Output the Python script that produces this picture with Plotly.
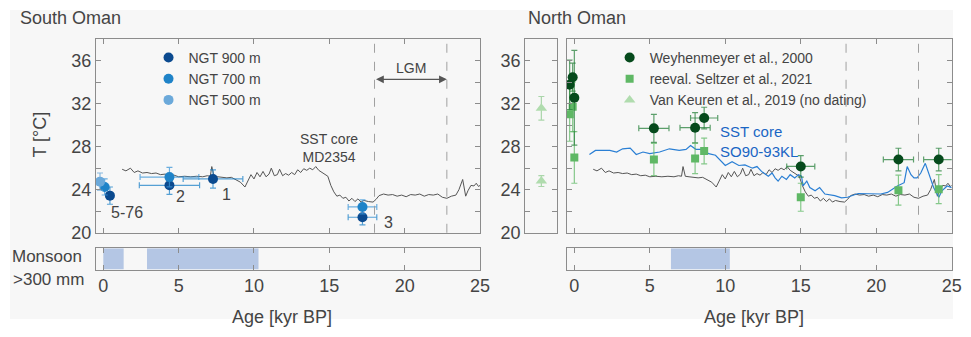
import plotly.graph_objects as go

# ---------------- data ----------------
md2354_age = [1.25, 1.5, 1.8, 2.05, 2.3, 2.6, 2.9, 3.2, 3.5, 3.8, 4.1, 4.4, 4.7, 5.0, 5.4, 5.8, 6.2, 6.6,
              6.9, 7.1, 7.2, 7.35, 7.6, 7.9, 8.2, 8.5, 8.8, 9.1, 9.4, 9.6, 9.8, 10.0, 10.2, 10.4, 10.6,
              10.8, 11.0, 11.15, 11.35, 11.55, 11.7, 11.9, 12.1, 12.3, 12.5, 12.7, 12.9, 13.1, 13.3,
              13.5, 13.7, 13.9, 14.1, 14.3, 14.5, 14.7, 14.9, 15.1, 15.3, 15.5, 15.7, 15.9, 16.1, 16.3,
              16.5, 16.7, 16.9, 17.1, 17.3, 17.6, 17.9, 18.1, 18.3, 18.6, 18.9, 19.2, 19.5, 19.8, 20.1,
              20.4, 20.7, 21.0, 21.3, 21.6, 21.9, 22.2, 22.5, 22.8, 23.1, 23.4, 23.6, 23.85, 24.05,
              24.2, 24.4, 24.6, 24.75, 24.9, 25.0]
md2354_T = [25.9, 25.75, 26.0, 25.6, 25.75, 25.55, 25.6, 25.5, 25.55, 25.4, 25.45, 25.3, 25.35, 25.2,
            25.25, 25.2, 25.25, 25.2, 25.3, 25.25, 26.15, 25.25, 25.2, 25.15, 25.1, 25.15, 24.9, 24.7,
            24.25, 24.8, 25.4, 25.0, 25.6, 25.2, 25.7, 25.2, 25.45, 26.0, 25.3, 25.4, 25.9, 25.3, 25.5,
            25.35, 25.6, 25.4, 25.85, 25.6, 25.95, 25.8, 26.0, 25.85, 26.15, 25.8, 25.6, 25.4, 25.25,
            24.4, 23.8, 23.4, 23.5, 23.2, 23.3, 22.95, 23.2, 22.9, 23.15, 22.85, 23.0, 22.9, 22.85,
            23.1, 23.45, 23.6, 23.5, 23.55, 23.4, 23.5, 23.35, 23.55, 23.5, 23.6, 23.4, 23.55, 23.5,
            23.6, 23.3, 23.2, 23.4, 23.5, 24.0, 24.95, 23.4, 23.9, 24.4, 24.35, 24.6, 24.3, 24.4]

so90_age = [1.0, 1.4, 2.35, 2.8, 3.2, 3.7, 4.1, 4.55, 5.0, 5.65, 6.3, 6.95, 7.4, 7.7, 8.05, 8.5, 8.9,
            9.35, 10.0, 10.45, 10.9, 11.3, 11.8, 12.1, 12.4, 12.85, 13.1, 13.3, 13.5, 13.75, 14.05,
            14.3, 14.6, 14.85, 15.05, 15.15, 15.4, 15.6, 15.95, 16.25, 16.6, 17.25, 17.7, 18.1, 18.8,
            19.65, 20.3, 20.75, 21.2, 21.4, 21.85, 22.05, 22.3, 22.5, 22.7, 22.95, 23.25, 23.5, 23.8,
            24.15, 24.35, 24.7, 25.0]
so90_T = [27.27, 27.65, 27.65, 27.5, 27.8, 27.87, 27.27, 27.5, 27.35, 27.5, 27.8, 27.65, 27.75, 28.1,
          27.75, 27.75, 27.35, 27.2, 26.25, 26.6, 26.25, 26.3, 26.0, 26.15, 25.7, 25.25, 25.55, 25.1,
          24.8, 25.25, 24.95, 25.4, 25.1, 25.4, 25.25, 24.35, 24.8, 24.2, 23.9, 24.2, 23.6, 23.45,
          23.25, 23.3, 23.65, 23.6, 23.6, 23.75, 24.2, 24.35, 24.65, 26.15, 25.4, 25.1, 25.1, 25.55,
          26.45, 25.4, 24.2, 23.3, 23.9, 24.35, 24.2]

ngt900_age = [0.44, 4.39, 7.28, 17.2]
ngt900_T = [23.45, 24.41, 25.0, 21.44]
ngt900_xerr = [0, 2.0, 1.98, 0.95]
ngt900_yerr = [0.8, 0.85, 0.85, 0.7]

ngt700_age = [0.09, 4.39, 17.2]
ngt700_T = [24.26, 25.17, 22.4]
ngt700_xerr = [0, 1.95, 0.95]
ngt700_yerr = [0.75, 0.9, 0.65]

ngt500_age = [-0.22]
ngt500_T = [24.75]
ngt500_yerr = [0.8]

sample_labels = ["5-76", "2", "1", "3"]
sample_label_age = [1.6, 5.1, 8.15, 18.9]
sample_label_T = [21.9, 23.4, 23.6, 21.0]

wey_age = [-0.31, -0.11, 0.0, 5.27, 8.0, 8.6, 15.0, 21.47, 24.14]
wey_T = [33.75, 34.45, 32.55, 29.7, 29.76, 30.66, 26.16, 26.8, 26.8]
wey_xerr = [0, 0, 0, 1.0, 1.0, 0.9, 0.93, 1.0, 1.0]
wey_yerr = [2.3, 1.3, 4.4, 1.3, 1.4, 1.0, 1.0, 1.05, 1.05]

sel_age = [-0.31, -0.11, 0.0, 5.27, 8.0, 8.6, 15.0, 21.47, 24.14]
sel_T = [31.0, 31.7, 27.0, 26.8, 26.9, 27.6, 23.3, 23.96, 24.05]
sel_yerr = [2.5, 2.3, 2.4, 1.5, 1.4, 1.2, 1.3, 1.4, 1.35]

vk_pos = [0.5, 0.5]
vk_T = [31.56, 24.8]
vk_yerr = [1.1, 0.5]

monsoon_south = [(0.0, 1.35), (2.9, 10.3)]
monsoon_north = [(6.4, 10.3)]

lgm = (18.0, 22.8)

# ---------------- style ----------------
# the page keeps its 8px body margin; the figure fills the rest of the 971x337 window
OFF = 8
W, H = 971 - 2 * OFF, 337 - 2 * OFF
PAPER = "#f7f7f7"
TXT = "#444444"
AX = "#8c8c8c"
FONT = "Liberation Sans, Arial, sans-serif"
C900, C700, C500 = "#0b4a8f", "#1f83c8", "#6ba9da"
CWEY, CSEL, CVK = "#064a1c", "#5fb865", "#b0dcae"
CBLUE = "#2a7fd4"
CGRAY = "#555555"


def px_x(p):
    return (p - OFF) / W


def px_y(p):
    return 1 - (p - OFF) / H


fig = go.Figure()

# ---- South Oman ----
fig.add_trace(go.Scatter(x=md2354_age, y=md2354_T, mode="lines", line=dict(color=CGRAY, width=1),
                         showlegend=False, xaxis="x", yaxis="y", hoverinfo="skip"))


def err(vals, color, width=1.2):
    return dict(type="data", array=vals, visible=True, color=color, thickness=width, width=3)


fig.add_trace(go.Scatter(x=ngt900_age, y=ngt900_T, mode="markers", name="NGT 900 m",
                         marker=dict(color=C900, size=10),
                         error_x=err(ngt900_xerr, "rgba(31,131,200,0.75)"),
                         error_y=err(ngt900_yerr, "rgba(31,131,200,0.75)"),
                         xaxis="x", yaxis="y", legend="legend"))
fig.add_trace(go.Scatter(x=ngt700_age, y=ngt700_T, mode="markers", name="NGT 700 m",
                         marker=dict(color=C700, size=10),
                         error_x=err(ngt700_xerr, "rgba(60,150,215,0.75)"),
                         error_y=err(ngt700_yerr, "rgba(60,150,215,0.75)"),
                         xaxis="x", yaxis="y", legend="legend"))
fig.add_trace(go.Scatter(x=ngt500_age, y=ngt500_T, mode="markers", name="NGT 500 m",
                         marker=dict(color=C500, size=10),
                         error_y=err(ngt500_yerr, "rgba(107,169,218,0.8)"),
                         xaxis="x", yaxis="y", legend="legend"))

for a, b in monsoon_south:
    fig.add_trace(go.Bar(y=[0.5], x=[b - a], base=[a], orientation="h", width=1,
                         marker=dict(color="#b4c6e4", line=dict(width=0)),
                         showlegend=False, xaxis="x2", yaxis="y2", hoverinfo="skip"))

# ---- North Oman ----
fig.add_trace(go.Scatter(x=vk_pos, y=vk_T, mode="markers", name="Van Keuren et al., 2019 (no dating)",
                         marker=dict(color=CVK, size=10, symbol="triangle-up"),
                         error_y=err(vk_yerr, "rgba(150,205,150,0.8)"),
                         xaxis="x3", yaxis="y3", legend="legend2", legendrank=3))
fig.add_trace(go.Scatter(x=md2354_age, y=md2354_T, mode="lines", line=dict(color=CGRAY, width=1),
                         showlegend=False, xaxis="x4", yaxis="y4", hoverinfo="skip"))
fig.add_trace(go.Scatter(x=so90_age, y=so90_T, mode="lines", line=dict(color=CBLUE, width=1.2),
                         showlegend=False, xaxis="x4", yaxis="y4", hoverinfo="skip"))
fig.add_trace(go.Scatter(x=sel_age, y=sel_T, mode="markers", name="reeval. Seltzer et al., 2021",
                         marker=dict(color=CSEL, size=8, symbol="square"),
                         error_y=err(sel_yerr, "rgba(95,184,101,0.75)"),
                         xaxis="x4", yaxis="y4", legend="legend2", legendrank=2))
fig.add_trace(go.Scatter(x=wey_age, y=wey_T, mode="markers", name="Weyhenmeyer et al., 2000",
                         marker=dict(color=CWEY, size=10),
                         error_x=err(wey_xerr, "rgba(40,130,60,0.75)"),
                         error_y=err(wey_yerr, "rgba(40,130,60,0.75)"),
                         xaxis="x4", yaxis="y4", legend="legend2", legendrank=1))

for a, b in monsoon_north:
    fig.add_trace(go.Bar(y=[0.5], x=[b - a], base=[a], orientation="h", width=1,
                         marker=dict(color="#b4c6e4", line=dict(width=0)),
                         showlegend=False, xaxis="x5", yaxis="y5", hoverinfo="skip"))

# ---------------- axes ----------------
tickfont = dict(family=FONT, size=18, color=TXT)
common = dict(showline=True, linecolor=AX, linewidth=1, mirror="ticks", ticks="inside",
              tickcolor=AX, ticklen=5, showgrid=False, zeroline=False, tickfont=tickfont)

main_y = [px_y(240), px_y(40)]
mon_y = [px_y(278), px_y(256)]
left_x = [px_x(96.7), px_x(485)]
rs_x = [px_x(530.7), px_x(563.3)]
rm_x = [px_x(572.7), px_x(961.7)]

yt = dict(range=[20, 38], tickvals=[20, 24, 28, 32, 36],
          minor=dict(tickvals=[22, 26, 30, 34], ticks="inside", ticklen=5, tickcolor=AX))

fig.update_layout(
    xaxis=dict(domain=left_x, anchor="y", range=[-0.5, 25], tickvals=[0, 5, 10, 15, 20, 25],
               showticklabels=False, **common),
    yaxis=dict(domain=main_y, anchor="x", showticklabels=True, **yt, **common),
    xaxis2=dict(domain=left_x, anchor="y2", range=[-0.5, 25], tickvals=[0, 5, 10, 15, 20, 25], **common),
    yaxis2=dict(domain=mon_y, anchor="x2", range=[0, 1], showticklabels=False,
                **{**common, "ticks": ""}),
    xaxis3=dict(domain=rs_x, anchor="y3", range=[0, 1], showticklabels=False,
                **{**common, "ticks": ""}),
    yaxis3=dict(domain=main_y, anchor="x3", **yt, **common),
    xaxis4=dict(domain=rm_x, anchor="y4", range=[-0.5, 25], tickvals=[0, 5, 10, 15, 20, 25],
                showticklabels=False, **common),
    yaxis4=dict(domain=main_y, anchor="x4", showticklabels=False, **yt, **common),
    xaxis5=dict(domain=rm_x, anchor="y5", range=[-0.5, 25], tickvals=[0, 5, 10, 15, 20, 25], **common),
    yaxis5=dict(domain=mon_y, anchor="x5", range=[0, 1], showticklabels=False,
                **{**common, "ticks": ""}),
)

fig.update_layout(
    width=W, height=H, margin=dict(l=0, r=0, t=0, b=0), autosize=False,
    paper_bgcolor="white", plot_bgcolor="white", barmode="overlay",
    font=dict(family=FONT, color=TXT, size=14),
    legend=dict(x=px_x(150), y=px_y(43), xanchor="left", yanchor="top", bgcolor="rgba(0,0,0,0)",
                font=dict(family=FONT, size=14, color=TXT), tracegroupgap=0, itemwidth=30),
    legend2=dict(x=px_x(616), y=px_y(43), xanchor="left", yanchor="top", bgcolor="rgba(0,0,0,0)",
                 font=dict(family=FONT, size=14, color=TXT), tracegroupgap=0, itemwidth=30,
                 traceorder="normal"),
)

# grey page area behind the panels
fig.add_shape(type="rect", xref="paper", yref="paper", x0=px_x(10), x1=1, y0=0, y1=px_y(10),
              fillcolor=PAPER, line=dict(width=0), layer="below")
# the small Van Keuren panel uses the page colour
fig.add_shape(type="rect", xref="x3 domain", yref="y3 domain", x0=0, x1=1, y0=0, y1=1,
              fillcolor=PAPER, line=dict(width=0), layer="below")

# LGM dashed lines
for xr in ("x", "x4"):
    for v in lgm:
        fig.add_shape(type="line", xref=xr, yref=("y" if xr == "x" else "y4") + " domain",
                      x0=v, x1=v, y0=0, y1=1, line=dict(color="#a0a0a0", width=1, dash="dash"))


def note(text, x, y, xref="paper", yref="paper", size=18, xanchor="center", color=TXT, **kw):
    return dict(text=text, x=x, y=y, xref=xref, yref=yref, showarrow=False, xanchor=xanchor,
                yanchor="middle", font=dict(family=FONT, size=size, color=color), **kw)


ann = []
# LGM arrow
ann.append(dict(x=lgm[1], y=34.25, ax=lgm[0], ay=34.25, xref="x", yref="y", axref="x", ayref="y",
                text="", showarrow=True, arrowhead=2, startarrowhead=2, arrowside="end+start",
                arrowsize=1.2, arrowwidth=1.3, arrowcolor="#555555"))
ann.append(note("LGM", (lgm[0] + lgm[1]) / 2, 35.3, "x", "y", size=14))
for t, a, b in zip(sample_labels, sample_label_age, sample_label_T):
    ann.append(note(t, a, b, "x", "y", size=16))
ann.append(note("SST core<br>MD2354", 14.95, 27.85, "x", "y", size=14))
ann.append(note("SST core<br>SO90-93KL", 9.55, 28.45, "x4", "y4", size=15, xanchor="left",
                color="#1a66c4", align="left"))
# titles
ann.append(note("South Oman", px_x(18), px_y(18), size=18, xanchor="left"))
ann.append(note("North Oman", px_x(531), px_y(18), size=18, xanchor="left"))
ann.append(note("T [°C]", px_x(40), px_y(139), size=18, textangle=-90))
ann.append(note("Age [kyr BP]", px_x(285), px_y(327), size=18))
ann.append(note("Age [kyr BP]", px_x(762), px_y(327), size=18))
ann.append(note("Monsoon", px_x(10), px_y(265), size=17, xanchor="left"))
ann.append(note("&gt;300 mm", px_x(11), px_y(288), size=17, xanchor="left"))
fig.update_layout(annotations=ann)

fig.write_html("out.html", config={"displayModeBar": False})
